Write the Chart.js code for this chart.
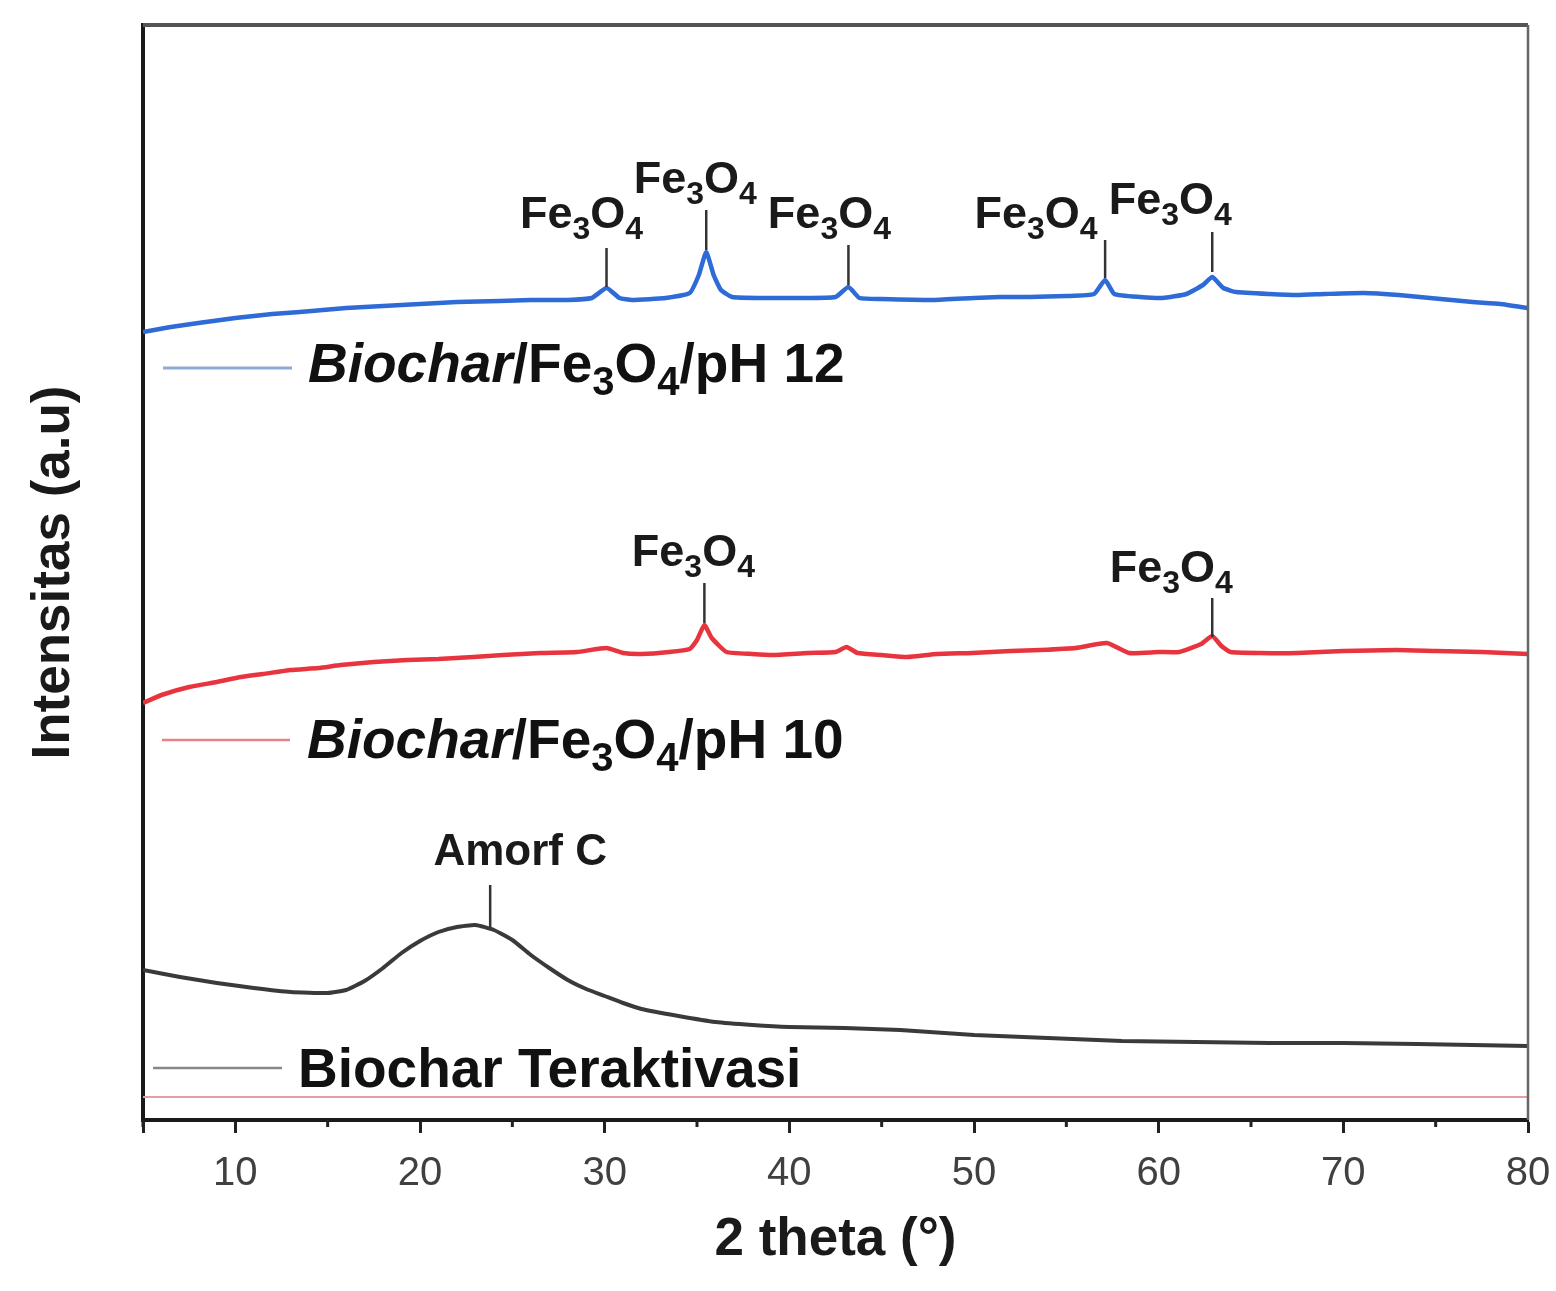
<!DOCTYPE html>
<html>
<head>
<meta charset="utf-8">
<script src="https://cdn.jsdelivr.net/npm/chart.js@4.4.1/dist/chart.umd.min.js"></script>
<style>
  body { margin: 0; background: #fff; }
  #wrap { width: 1556px; height: 1291px; position: relative; }
</style>
</head>
<body>
<div id="wrap"><canvas id="xrdChart"></canvas></div>
<script>
// 2 theta (deg) and intensity (a.u.)
const ph12Theta = [5, 6.5, 8, 10, 12, 13.5, 16, 19, 22, 24.3, 26, 28, 29.3, 30.1, 30.8, 31.5, 33.3, 34.6, 35.1, 35.5, 35.9, 36.3, 36.9, 38.5, 40.6, 42.5, 43.2, 43.8, 45, 47.8, 50, 51.4, 53, 55, 56.5, 57.1, 57.6, 59, 60.2, 61.5, 62.4, 62.9, 63.5, 64.2, 66, 67.5, 69, 71.1, 73, 74.7, 77, 78.5, 80];
const ph12Int = [788, 793, 797, 802, 806, 808, 812, 815, 818, 819, 820, 820, 822, 832, 822, 820, 822, 827, 845, 868, 845, 830, 823, 822, 822, 823, 833, 822, 821, 820, 822, 823, 823, 824, 826, 840, 826, 823, 822, 826, 835, 843, 832, 828, 826, 825, 826, 827, 825, 822, 818, 816, 812];

const ph10Theta = [5, 6, 7.5, 9, 10.3, 11.5, 13, 14.5, 15.7, 17.5, 19.3, 21, 22.9, 24.5, 26.5, 28.5, 30.1, 31, 32, 33.5, 34.6, 35, 35.4, 35.8, 36.6, 38, 39.1, 41, 42.5, 43.1, 43.7, 45, 46.4, 48, 49.9, 52, 53.6, 55.5, 57.2, 58.4, 60, 61.1, 62.3, 62.9, 63.4, 63.9, 65.5, 67.5, 70, 72.9, 75, 77.5, 80];
const ph10Int = [417, 425, 433, 438, 443, 446, 450, 452, 455, 458, 460, 461, 463, 465, 467, 468, 472, 467, 466, 468, 471, 480, 495, 482, 468, 466, 465, 467, 468, 473, 467, 465, 463, 466, 467, 469, 470, 472, 477, 467, 468, 468, 476, 484, 474, 468, 467, 467, 469, 470, 469, 468, 466];

const bcTheta = [5, 7, 9, 11, 13, 15, 16, 17, 18, 19, 20, 21, 22, 23, 24, 25, 26, 27, 28, 29, 30, 31, 32, 34, 36, 38, 40, 43, 46, 50, 54, 58, 62, 66, 70, 74, 77, 80];
const bcInt = [150, 143, 137, 132, 128, 127, 130, 139, 152, 167, 179, 188, 193, 195, 190, 180, 165, 152, 140, 131, 124, 117, 111, 104, 98, 95, 93, 92, 90, 85, 82, 79, 78, 77, 77, 76, 75, 74];

const baseTheta = [5, 80];
const baseInt = [23, 23];

const xTickLabels = [10, 20, 30, 40, 50, 60, 70, 80];

// peak markers: position and top of peak
const peaks12 = [30.1, 35.5, 43.2, 57.1, 62.9];
const peaks12Top = [833, 870, 835, 842, 848];
const peaks10 = [35.4, 62.9];
const peaks10Top = [497, 483];
const amorfPeak = [23.8];
const amorfTop = [192];

// label placement for each marker (pixels)
const marks12Style = [
  { dx: -25, len: 39, rise: 20 }, { dx: -11, len: 40, rise: 17 }, { dx: -19, len: 40, rise: 17 },
  { dx: -69, len: 38, rise: 12 }, { dx: -42, len: 40, rise: 18 }
];
const marks10Style = [{ dx: -11, len: 40, rise: 17 }, { dx: -41, len: 39, rise: 16 }];
const amorfStyle = [{ dx: 30, len: 43, rise: 20 }];

const toPts = (xs, ys) => xs.map((x, i) => ({ x: x, y: ys[i] }));

const FE3O4 = [['Fe', ''], ['3', 's'], ['O', ''], ['4', 's']];

function drawRich(ctx, parts, x, baseline, size, align) {
  const fontFor = kind => {
    if (kind === 's') return 'bold ' + Math.round(size * 0.72) + 'px "Liberation Sans", Arial, sans-serif';
    if (kind === 'i') return 'italic bold ' + size + 'px "Liberation Sans", Arial, sans-serif';
    return 'bold ' + size + 'px "Liberation Sans", Arial, sans-serif';
  };
  let total = 0;
  parts.forEach(p => { ctx.font = fontFor(p[1]); total += ctx.measureText(p[0]).width; });
  let cx = align === 'center' ? x - total / 2 : x;
  ctx.textAlign = 'left';
  ctx.textBaseline = 'alphabetic';
  parts.forEach(p => {
    ctx.font = fontFor(p[1]);
    const dy = p[1] === 's' ? size * 0.24 : 0;
    ctx.fillText(p[0], cx, baseline + dy);
    cx += ctx.measureText(p[0]).width;
  });
}

const decorPlugin = {
  id: 'decor',
  afterDatasetsDraw(chart) {
    const { ctx, chartArea: a, scales: { x, y } } = chart;
    ctx.save();

    // top and right frame
    ctx.strokeStyle = '#555';
    ctx.lineWidth = 4;
    ctx.beginPath();
    ctx.moveTo(a.left, a.top);
    ctx.lineTo(a.right, a.top);
    ctx.stroke();
    ctx.strokeStyle = '#666';
    ctx.lineWidth = 2.5;
    ctx.beginPath();
    ctx.moveTo(a.right, a.top);
    ctx.lineTo(a.right, a.bottom);
    ctx.stroke();

    // minor ticks
    ctx.strokeStyle = '#222';
    ctx.lineWidth = 3;
    for (let v = 5; v < 80; v += 10) {
      const px = x.getPixelForValue(v);
      ctx.beginPath();
      ctx.moveTo(px, a.bottom);
      ctx.lineTo(px, a.bottom + 7);
      ctx.stroke();
    }

    // peak markers
    const drawMarks = (pos, tops, styles, parts, size) => {
      pos.forEach((p, i) => {
        const s = styles[i];
        const px = x.getPixelForValue(p);
        const py = y.getPixelForValue(tops[i]);
        ctx.strokeStyle = '#333';
        ctx.lineWidth = 2.5;
        ctx.beginPath();
        ctx.moveTo(px, py);
        ctx.lineTo(px, py - s.len);
        ctx.stroke();
        ctx.fillStyle = '#1a1a1a';
        drawRich(ctx, parts, px + s.dx, py - s.len - s.rise, size, 'center');
      });
    };
    drawMarks(peaks12, peaks12Top, marks12Style, FE3O4, 45);
    drawMarks(peaks10, peaks10Top, marks10Style, FE3O4, 45);
    drawMarks(amorfPeak, amorfTop, amorfStyle, [['Amorf C', '']], 44);

    // in-plot legend entries
    const legend = [
      { color: '#8ea9d3', lw: 3, lineY: 368, textY: 382, l0: 20, l1: 149, tx: 165,
        parts: [['Biochar', 'i'], ['/Fe', ''], ['3', 's'], ['O', ''], ['4', 's'], ['/pH 12', '']] },
      { color: '#ec8088', lw: 2.5, lineY: 740, textY: 758, l0: 19, l1: 147, tx: 164,
        parts: [['Biochar', 'i'], ['/Fe', ''], ['3', 's'], ['O', ''], ['4', 's'], ['/pH 10', '']] },
      { color: '#888', lw: 2.5, lineY: 1068, textY: 1087, l0: 10, l1: 139, tx: 155,
        parts: [['Biochar Teraktivasi', '']] }
    ];
    legend.forEach(it => {
      ctx.strokeStyle = it.color;
      ctx.lineWidth = it.lw;
      ctx.beginPath();
      ctx.moveTo(a.left + it.l0, it.lineY);
      ctx.lineTo(a.left + it.l1, it.lineY);
      ctx.stroke();
      ctx.fillStyle = '#111';
      drawRich(ctx, it.parts, a.left + it.tx, it.textY, 55, 'left');
    });

    ctx.restore();
  }
};

new Chart(document.getElementById('xrdChart'), {
  type: 'line',
  data: {
    datasets: [
      { label: 'Biochar/Fe3O4/pH 12', data: toPts(ph12Theta, ph12Int), borderColor: '#2e6bd6', borderWidth: 4.5 },
      { label: 'Biochar/Fe3O4/pH 10', data: toPts(ph10Theta, ph10Int), borderColor: '#e8343f', borderWidth: 4.5 },
      { label: 'Biochar Teraktivasi', data: toPts(bcTheta, bcInt), borderColor: '#3a3a3a', borderWidth: 4 },
      { label: 'baseline', data: toPts(baseTheta, baseInt), borderColor: '#eb9aa2', borderWidth: 2 }
    ]
  },
  options: {
    responsive: true,
    maintainAspectRatio: false,
    animation: false,
    elements: { point: { radius: 0 }, line: { tension: 0.15 } },
    layout: { padding: { top: 25, right: 28, left: 0, bottom: 0 } },
    plugins: { legend: { display: false }, tooltip: { enabled: false } },
    scales: {
      x: {
        type: 'linear',
        min: 5,
        max: 80,
        afterFit: scale => {
          scale.height = 171;
          scale.paddingLeft = 0;
          scale.paddingRight = 0;
        },
        ticks: {
          stepSize: 10,
          autoSkip: false,
          maxRotation: 0,
          padding: 17,
          color: '#404040',
          font: { family: '"Liberation Sans", Arial, sans-serif', size: 40 },
          callback: v => (xTickLabels.includes(v) ? v : '')
        },
        grid: { drawOnChartArea: false, drawTicks: true, tickLength: 13, tickWidth: 3, tickColor: '#222' },
        border: { display: true, color: '#1a1a1a', width: 4 },
        title: {
          display: true,
          text: '2 theta (°)',
          color: '#1a1a1a',
          font: { family: '"Liberation Sans", Arial, sans-serif', size: 53, weight: 'bold' },
          padding: { top: 0, bottom: 19 }
        }
      },
      y: {
        min: 0,
        max: 1095,
        afterFit: scale => { scale.width = 143; },
        ticks: { display: false },
        grid: { display: false },
        border: { display: true, color: '#1a1a1a', width: 4 },
        title: {
          display: true,
          text: 'Intensitas (a.u)',
          color: '#1a1a1a',
          font: { family: '"Liberation Sans", Arial, sans-serif', size: 53, weight: 'bold' },
          padding: { top: 23, bottom: 0 }
        }
      }
    }
  },
  plugins: [decorPlugin]
});
</script>
</body>
</html>
